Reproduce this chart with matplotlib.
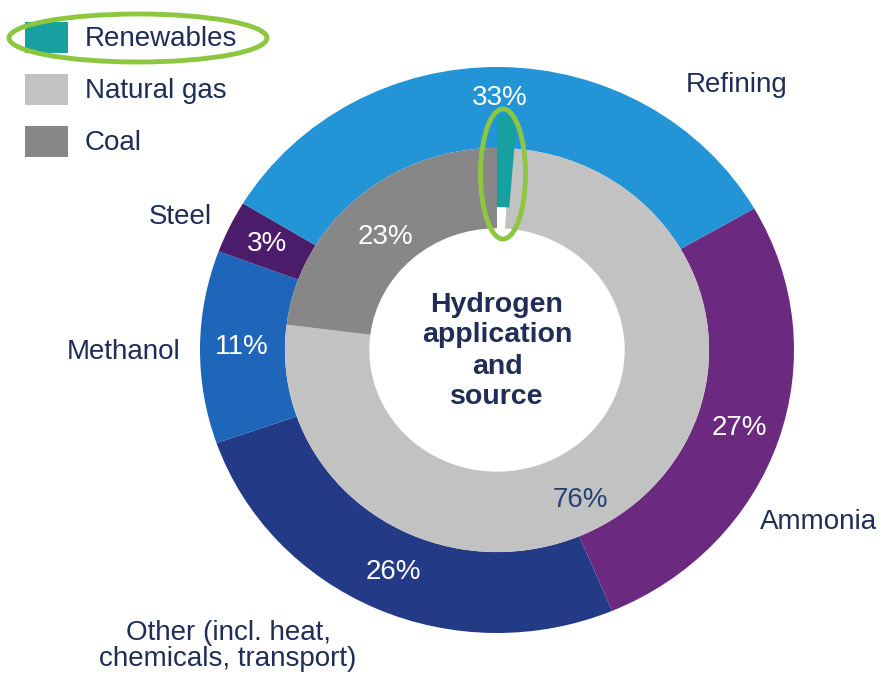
import matplotlib.pyplot as plt
from matplotlib.patches import Ellipse, Rectangle, Wedge

plt.rcParams['font.family'] = ['Liberation Sans', 'DejaVu Sans']

# outer ring: hydrogen applications (share, %)
applications = ['Ammonia', 'Other (incl. heat,\nchemicals, transport)', 'Methanol', 'Steel', 'Refining']
app_values = [27, 26, 11, 3, 33]
app_colors = ['#6B2A7F', '#233B86', '#1E66B9', '#4B1C6A', '#2394D5']

# inner ring: hydrogen sources (share, %)
sources = ['Renewables', 'Natural gas', 'Coal']
src_values = [1, 76, 23]
src_colors = ['#16A09F', '#C2C2C2', '#878787']

NAVY = '#1F2D57'
W, H = 881, 682


def fx(x):
    return x / W


def fy(y):
    return 1 - y / H


fig = plt.figure(figsize=(8.81, 6.82), dpi=100)
fig.patch.set_facecolor('white')

cx, cy, rx, ry = 497, 350, 297, 283
ax = fig.add_axes([fx(cx - rx), fy(cy + ry), 2 * rx / W, 2 * ry / H])

wedges, texts, pcts = ax.pie(
    app_values, colors=app_colors, startangle=30, counterclock=False,
    radius=1.0, wedgeprops=dict(width=0.286, linewidth=0),
    autopct=lambda p: f'{round(p)}%', pctdistance=0.86,
    textprops=dict(color='white', fontsize=20))
for t in pcts:
    t.set_zorder(5)
# refining label sits a bit further out, above the sliver
x0, y0 = pcts[-1].get_position()
pcts[-1].set_position((x0 * 0.89 / 0.86, y0 * 0.89 / 0.86))

# sources ring, renewables slot left white and drawn on top as a sliver
inner_colors = ['white'] + src_colors[1:]
ax.pie(src_values, colors=inner_colors, startangle=90, counterclock=False,
       radius=0.714, wedgeprops=dict(width=0.284, linewidth=0))
ren_span = 360 * src_values[0] / sum(src_values)
ax.add_patch(Wedge((0, 0), 0.83, 90 - ren_span * 1.3, 90, width=0.325,
                   facecolor=src_colors[0], linewidth=0, zorder=3))

ax.set_aspect('auto')
ax.set_xlim(-1, 1)
ax.set_ylim(-1, 1)
ax.axis('off')

# inner ring percentages
fig.text(fx(385), fy(237), f'{src_values[2]}%', color='white', fontsize=20,
         ha='center', va='center')
fig.text(fx(580), fy(500), f'{src_values[1]}%', color='#24407A', fontsize=20,
         ha='center', va='center')

fig.text(fx(497), fy(351), 'Hydrogen\napplication\nand\nsource', color=NAVY,
         fontsize=20.5, fontweight='bold', ha='center', va='center',
         linespacing=1.25)

# application names around the ring
label_pos = {
    'Refining': (737, 85),
    'Ammonia': (818, 522),
    'Steel': (180, 217),
    'Methanol': (124, 352),
    'Other (incl. heat,\nchemicals, transport)': (228, 646),
}
for name, (x, y) in label_pos.items():
    fig.text(fx(x), fy(y), name, color=NAVY, fontsize=20, ha='center',
             va='center', linespacing=1.05)

# legend for the sources
for i, (name, col) in enumerate(zip(sources, src_colors)):
    top = 22 + i * 52
    fig.add_artist(Rectangle((fx(25), fy(top + 31)), 43 / W, 31 / H,
                             facecolor=col, edgecolor='none',
                             transform=fig.transFigure))
    fig.text(fx(85), fy(top + 17), name, color=NAVY, fontsize=20,
             ha='left', va='center')

# green highlight rings
hl = '#8DC63F'
fig.add_artist(Ellipse((fx(138), fy(38)), 258 / W, 48 / H, fill=False,
                       edgecolor=hl, linewidth=3.5, transform=fig.transFigure))
fig.add_artist(Ellipse((fx(503), fy(174)), 45 / W, 130 / H, fill=False,
                       edgecolor=hl, linewidth=3.5, transform=fig.transFigure))

fig.savefig('out.png', dpi=100, facecolor='white')
